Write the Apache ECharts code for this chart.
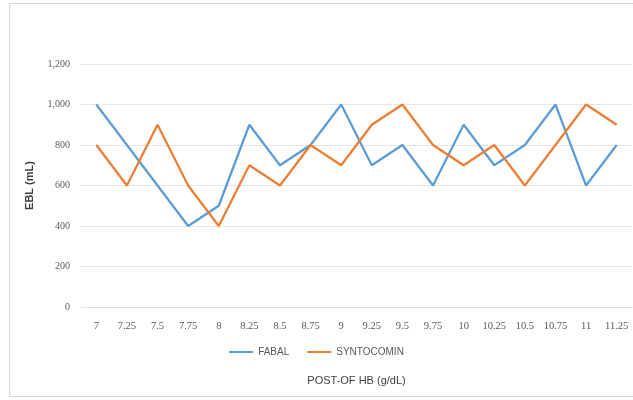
<!DOCTYPE html>
<html><head><meta charset="utf-8">
<script src="https://cdn.jsdelivr.net/npm/echarts@6/dist/echarts.min.js"></script>
<style>html,body{margin:0;padding:0;background:#fff}#c{width:633px;height:400px}</style>
</head><body><div id="c"></div>
<script>
const categories = ['7','7.25','7.5','7.75','8','8.25','8.5','8.75','9','9.25','9.5','9.75','10','10.25','10.5','10.75','11','11.25'];
const fabal = [1000,800,600,400,500,900,700,800,1000,700,800,600,900,700,800,1000,600,800];
const syntocomin = [800,600,900,600,400,700,600,800,700,900,1000,800,700,800,600,800,1000,900];
const seriesNames = ['FABAL','SYNTOCOMIN'];
const chart = echarts.init(document.getElementById('c'));
chart.setOption({
  backgroundColor:'#fff',
  animation:false,
  graphic:[{type:'rect',shape:{x:9.5,y:3.5,width:640,height:393},style:{fill:'none',stroke:'#d9d9d9',lineWidth:1}}],
  grid:{left:81,right:1,top:64,bottom:93},
  legend:{data:seriesNames,bottom:38,left:'center',itemWidth:24,itemHeight:2,itemGap:18,icon:'rect',
    textStyle:{fontFamily:'Liberation Sans',fontSize:10,color:'#595959'}},
  xAxis:{type:'category',data:categories,boundaryGap:true,
    name:'POST-OF HB (g/dL)',nameLocation:'middle',nameGap:68,
    nameTextStyle:{fontFamily:'Liberation Sans',fontSize:11,color:'#404040'},
    axisLine:{lineStyle:{color:'#e0e0e0'}},axisTick:{show:false},
    axisLabel:{fontFamily:'Liberation Serif',fontSize:10.5,color:'#595959',margin:14,interval:0}},
  yAxis:{type:'value',min:0,max:1200,interval:200,
    name:'EBL (mL)',nameLocation:'middle',nameGap:46,nameRotate:90,
    nameTextStyle:{fontFamily:'Liberation Sans',fontSize:11,fontWeight:'bold',color:'#404040'},
    axisLine:{show:false},axisTick:{show:false},
    splitLine:{lineStyle:{color:'#e6e6e6'}},
    axisLabel:{fontFamily:'Liberation Serif',fontSize:10,color:'#595959',margin:11}},
  series:[
    {name:seriesNames[0],type:'line',data:fabal,symbol:'none',lineStyle:{width:2.2,color:'#5b9bd5'},itemStyle:{color:'#5b9bd5'}},
    {name:seriesNames[1],type:'line',data:syntocomin,symbol:'none',lineStyle:{width:2.2,color:'#ed7d31'},itemStyle:{color:'#ed7d31'}}
  ]
});
</script></body></html>
